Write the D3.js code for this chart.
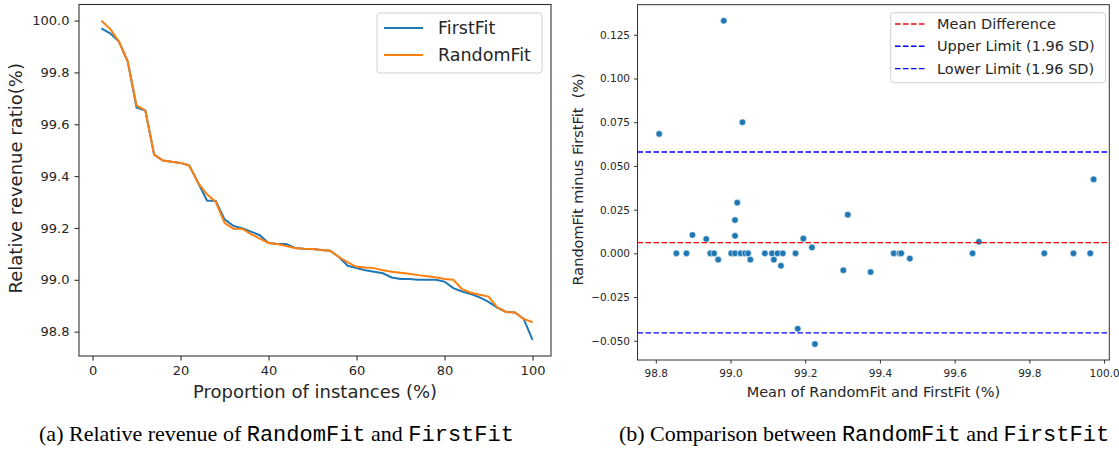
<!DOCTYPE html>
<html><head><meta charset="utf-8">
<script src="https://cdn.jsdelivr.net/npm/d3@7"></script>
<style>
body{margin:0;background:#fff;}
svg{display:block;}
text{font-family:"DejaVu Sans",sans-serif;fill:#262626;}
</style></head>
<body>
<svg id="c" width="1119" height="449"></svg>
<script>
// ---- Data (a) ----
const instancesPct = [2,4,6,8,10,12,14,16,18,20,22,24,26,28,30,32,34,36,38,40,42,44,46,48,50,52,54,56,58,60,62,64,66,68,70,72,74,76,78,80,82,84,86,88,90,92,94,96,98,100];
const firstFit = [99.970,99.951,99.919,99.842,99.665,99.653,99.483,99.460,99.455,99.451,99.441,99.374,99.306,99.304,99.233,99.208,99.199,99.186,99.172,99.142,99.138,99.138,99.123,99.120,99.119,99.115,99.112,99.088,99.054,99.045,99.037,99.031,99.025,99.009,99.003,99.003,99.000,99.000,99.000,98.993,98.968,98.955,98.945,98.932,98.915,98.893,98.876,98.874,98.849,98.768];
const randomFit = [99.999,99.968,99.919,99.842,99.673,99.653,99.483,99.460,99.455,99.451,99.441,99.374,99.330,99.301,99.220,99.197,99.197,99.176,99.159,99.142,99.138,99.130,99.123,99.120,99.119,99.115,99.112,99.088,99.067,99.050,99.047,99.045,99.037,99.031,99.027,99.023,99.018,99.014,99.010,99.003,99.000,98.964,98.950,98.942,98.935,98.894,98.876,98.874,98.849,98.836];
const seriesNames = ["FirstFit","RandomFit"];
const xTicksA = [0,20,40,60,80,100];
const yTicksA = [98.8,99.0,99.2,99.4,99.6,99.8,100.0];

// ---- Data (b) ----
const meanValues = [98.809,98.855,98.882,98.898,98.935,98.946,98.956,98.967,98.982,99.002,99.012,99.012,99.012,99.018,99.027,99.032,99.039,99.047,99.053,99.092,99.111,99.116,99.126,99.135,99.140,99.174,99.180,99.195,99.218,99.226,99.302,99.314,99.375,99.437,99.452,99.457,99.480,99.648,99.665,99.840,99.918,99.963,99.972];
const diffValues = [0.0683,0,0,0.0105,0.0082,0,0,-0.0036,0.133,0,0,0.010,0.019,0.029,0,0.075,0,0,-0.0036,0,0,-0.0036,0,-0.0071,0,0,-0.0431,0.0084,0.0034,-0.0519,-0.0097,0.0221,-0.0107,0,0,0,-0.003,0,0.0066,0,0,0,0.0423];
const limitNames = ["Mean Difference","Upper Limit (1.96 SD)","Lower Limit (1.96 SD)"];
const limitValues = [0.0061,0.0580,-0.0455];
const xTicksB = [98.8,99.0,99.2,99.4,99.6,99.8,100.0];
const yTicksB = [-0.050,-0.025,0.000,0.025,0.050,0.075,0.100,0.125];

const captionA = ["(a) Relative revenue of ","RandomFit"," and ","FirstFit"];
const captionB = ["(b) Comparison between ","RandomFit"," and ","FirstFit"];

const svg = d3.select("#c");
const spine = "#333";

// ================= Chart (a) =================
{
  const L=79,R=551,T=4.5,B=356;
  const x = d3.scaleLinear().domain([-3.08,104.2]).range([L,R]);
  const y = d3.scaleLinear().domain([98.706,100.062]).range([B,T]);
  const g = svg.append("g");
  const xa = g.append("g").attr("transform",`translate(0,${B})`)
    .call(d3.axisBottom(x).tickValues(xTicksA).tickFormat(d3.format("d")).tickSize(4.5).tickPadding(5));
  const ya = g.append("g").attr("transform",`translate(${L},0)`)
    .call(d3.axisLeft(y).tickValues(yTicksA).tickFormat(d3.format(".1f")).tickSize(4.5).tickPadding(5));
  [xa,ya].forEach(a=>{a.select(".domain").remove();a.selectAll("line").attr("stroke",spine).attr("stroke-width",1.1);
    a.selectAll("text").attr("font-size",13).attr("font-family","DejaVu Sans").attr("fill","#262626");});
  g.append("rect").attr("x",L).attr("y",T).attr("width",R-L).attr("height",B-T)
    .attr("fill","none").attr("stroke",spine).attr("stroke-width",1.1);
  const colors=["#1f77b4","#ff7f0e"];
  [firstFit,randomFit].forEach((s,i)=>{
    g.append("path").datum(s.map((v,j)=>[instancesPct[j],v]))
     .attr("d",d3.line().x(d=>x(d[0])).y(d=>y(d[1])))
     .attr("fill","none").attr("stroke",colors[i]).attr("stroke-width",2);
  });
  g.append("text").attr("x",(L+R)/2).attr("y",398).attr("text-anchor","middle").attr("font-size",18)
    .text("Proportion of instances (%)");
  g.append("text").attr("transform",`translate(22,${(T+B)/2-2}) rotate(-90)`).attr("text-anchor","middle")
    .attr("font-size",18).text("Relative revenue ratio(%)");
  // legend
  const lg=g.append("g");
  lg.append("rect").attr("x",377).attr("y",13).attr("width",165).attr("height",60).attr("rx",3)
    .attr("fill","#fff").attr("fill-opacity",0.8).attr("stroke","#d0d0d0");
  seriesNames.forEach((n,i)=>{
    const yy=28+i*27;
    lg.append("line").attr("x1",384).attr("x2",423).attr("y1",yy).attr("y2",yy).attr("stroke",colors[i]).attr("stroke-width",2);
    lg.append("text").attr("x",438).attr("y",yy+6).attr("font-size",17.5).text(n);
  });
}

// ================= Chart (b) =================
{
  const L=637.5,R=1109.3,T=4.7,B=360;
  const x = d3.scaleLinear().domain([98.751,100.014]).range([L,R]);
  const y = d3.scaleLinear().domain([-0.061,0.1422]).range([B,T]);
  const g = svg.append("g");
  const fmtY = v=>d3.format(".3f")(v).replace("-","\u2212");
  const xa = g.append("g").attr("transform",`translate(0,${B})`)
    .call(d3.axisBottom(x).tickValues(xTicksB).tickFormat(d3.format(".1f")).tickSize(3.5).tickPadding(4));
  const ya = g.append("g").attr("transform",`translate(${L},0)`)
    .call(d3.axisLeft(y).tickValues(yTicksB).tickFormat(fmtY).tickSize(3.5).tickPadding(4));
  [xa,ya].forEach(a=>{a.select(".domain").remove();a.selectAll("line").attr("stroke",spine).attr("stroke-width",1);
    a.selectAll("text").attr("font-size",10.5).attr("font-family","DejaVu Sans").attr("fill","#262626");});
  xa.selectAll("text").attr("dy","0.9em");
  g.append("rect").attr("x",L).attr("y",T).attr("width",R-L).attr("height",B-T)
    .attr("fill","none").attr("stroke",spine).attr("stroke-width",1);
  g.append("g").selectAll("circle").data(meanValues.map((m,i)=>[m,diffValues[i]])).join("circle")
    .attr("cx",d=>x(d[0])).attr("cy",d=>y(d[1])).attr("r",3.3)
    .attr("fill","#1f77b4").attr("stroke","#fff").attr("stroke-width",0.6);
  const lcol=["#ff0000","#0000ff","#0000ff"];
  limitValues.forEach((v,i)=>{
    g.append("line").attr("x1",L).attr("x2",R).attr("y1",y(v)).attr("y2",y(v))
      .attr("stroke",lcol[i]).attr("stroke-width",1.4).attr("stroke-dasharray","5.5,2.5");
  });
  g.append("text").attr("x",(L+R)/2).attr("y",397).attr("text-anchor","middle").attr("font-size",14.5)
    .text("Mean of RandomFit and FirstFit (%)");
  g.append("text").attr("transform",`translate(583,${(T+B)/2-3}) rotate(-90)`).attr("text-anchor","middle")
    .attr("font-size",14.5).attr("xml:space","preserve").style("white-space","pre").text("RandomFit minus FirstFit  (%)");
  const lg=g.append("g");
  lg.append("rect").attr("x",890.7).attr("y",12.7).attr("width",215).attr("height",70).attr("rx",3)
    .attr("fill","#fff").attr("fill-opacity",0.8).attr("stroke","#d0d0d0");
  limitNames.forEach((n,i)=>{
    const yy=24+i*22.3;
    lg.append("line").attr("x1",895).attr("x2",926).attr("y1",yy).attr("y2",yy)
      .attr("stroke",lcol[i]).attr("stroke-width",1.4).attr("stroke-dasharray","5.5,2.5");
    lg.append("text").attr("x",937).attr("y",yy+5).attr("font-size",14.5).text(n);
  });
}

// ================= Captions =================
function caption(parts,cx){
  const t=svg.append("text").attr("x",cx).attr("y",441).attr("text-anchor","middle").attr("font-size",22)
    .style("fill","#000");
  parts.forEach((p,i)=>{
    t.append("tspan").text(p).attr("font-family", i%2? "Liberation Mono, monospace":"Liberation Serif, Times New Roman, serif")
     .style("white-space","pre");
  });
}
caption(captionA,276.5);
caption(captionB,864);
</script>
</body></html>
